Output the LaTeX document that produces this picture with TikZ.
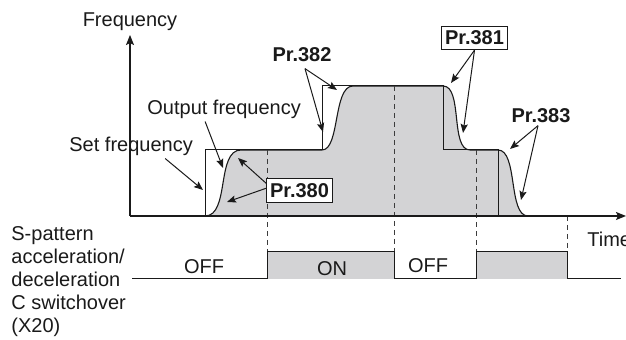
\documentclass[tikz,border=0pt]{standalone}
\usepackage{fontspec}
\setmainfont{Liberation Sans}
\usetikzlibrary{arrows.meta}
\definecolor{plotgray}{HTML}{D3D3D5}
\definecolor{plotink}{HTML}{1A1A1A}
\tikzset{
  axis/.style={draw=plotink,line width=0.65pt,-{Stealth[length=5pt,width=4pt,inset=1pt]}},
  set line/.style={draw=plotink,line width=0.5pt},
  out curve/.style={draw=plotink,fill=plotgray,line width=0.55pt},
  pointer/.style={draw=plotink,line width=0.5pt,-{Stealth[length=4.5pt,width=3.6pt,inset=0.8pt]}},
  guide/.style={draw=plotink!85,line width=0.45pt,dash pattern=on 2.5pt off 2pt},
  caption/.style={inner sep=1pt,text=plotink},
  param/.style={inner sep=1pt,text=plotink,font=\bfseries},
  param box/.style={draw=plotink,fill=white,line width=0.5pt,text=plotink,
    inner xsep=1.6pt,inner ysep=2.3pt,font=\bfseries}
}

\begin{document}
\begin{tikzpicture}[x=0.5pt,y=-0.5pt]
  \useasboundingbox (0,0) rectangle (626,340);
  \coordinate (o) at (130,216);
  \coordinate (ytip) at (130,35);
  \coordinate (xtip) at (626,216);
  \path[out curve] (205,216) .. controls (230,216) and (216,150) .. (241,150)
    -- (322,150) .. controls (340,150) and (333,86) .. (353,86)
    -- (443,86) .. controls (463,86) and (450,150) .. (470,150)
    -- (498,150) .. controls (518,150) and (508,216) .. (528,216) -- cycle;
  \foreach \x/\y in {267/150,394/86,476/150,567/216}
    \draw[guide] (\x,\y) -- (\x,252);
  \draw[set line] (205,216) -- (205,150) -- (322,150) -- (322,86)
    -- (443,86) -- (443,150) -- (498,150) -- (498,216);
  \draw[axis] (o) -- (ytip);
  \draw[axis] (o) -- (xtip);
  \foreach \a/\b in {267/394,476/567}
    \fill[plotgray] (\a,252) rectangle (\b,279);
  \draw[set line] (132,279) -- (267,279) -- (267,252) -- (394,252) -- (394,279)
    -- (476,279) -- (476,252) -- (567,252) -- (567,279) -- (621,279);

  \node[caption,anchor=base] (freq) at (130,27) {Frequency};
  \node[caption,anchor=base west] (outf) at (145,115) {Output frequency};
  \node[caption,anchor=base west] (setf) at (67,152) {Set frequency};
  \node[caption,anchor=base west] (time) at (585,247) {Time};
  \node[param,anchor=base] (p382) at (302,62) {Pr.382};
  \node[param,anchor=base] (p383) at (541,123) {Pr.383};
  \node[param box] (p380) at (299.5,190.5) {Pr.380};
  \node[param box] (p381) at (474.5,38) {Pr.381};
  \node[caption,anchor=base] (off1) at (204,274) {OFF};
  \node[caption,anchor=base] (on) at (332,276) {ON};
  \node[caption,anchor=base] (off2) at (428,273) {OFF};
  \node[caption,anchor=base west,align=left,font=\fontsize{10}{11.5}\selectfont]
    (x20) at (9,333) {S-pattern\\acceleration/\\deceleration\\C switchover\\(X20)};

  \coordinate (t380a) at (238,158);
  \coordinate (t380b) at (227,202);
  \coordinate (t382a) at (337,90);
  \coordinate (t382b) at (323,132);
  \coordinate (t381a) at (451,83);
  \coordinate (t381b) at (463,133);
  \coordinate (t383a) at (510,149);
  \coordinate (t383b) at (521,200);
  \coordinate (tset) at (203,190);
  \coordinate (tout) at (223,168);
  \draw[pointer] ([xshift=-15pt]setf.south east) -- (tset);
  \draw[pointer] ([xshift=-9.5pt]outf.south) -- (tout);
  \draw[pointer] (p380.168) -- (t380a);
  \draw[pointer] (p380.176) -- (t380b);
  \draw[pointer] ([xshift=1.5pt,yshift=-2pt]p382.south) -- (t382a);
  \draw[pointer] ([xshift=1.5pt,yshift=-2pt]p382.south) -- (t382b);
  \draw[pointer] (p381.south) -- (t381a);
  \draw[pointer] (p381.south) -- (t381b);
  \draw[pointer] ([xshift=-1.5pt]p383.south) -- (t383a);
  \draw[pointer] ([xshift=-1.5pt]p383.south) -- (t383b);
\end{tikzpicture}
\end{document}
